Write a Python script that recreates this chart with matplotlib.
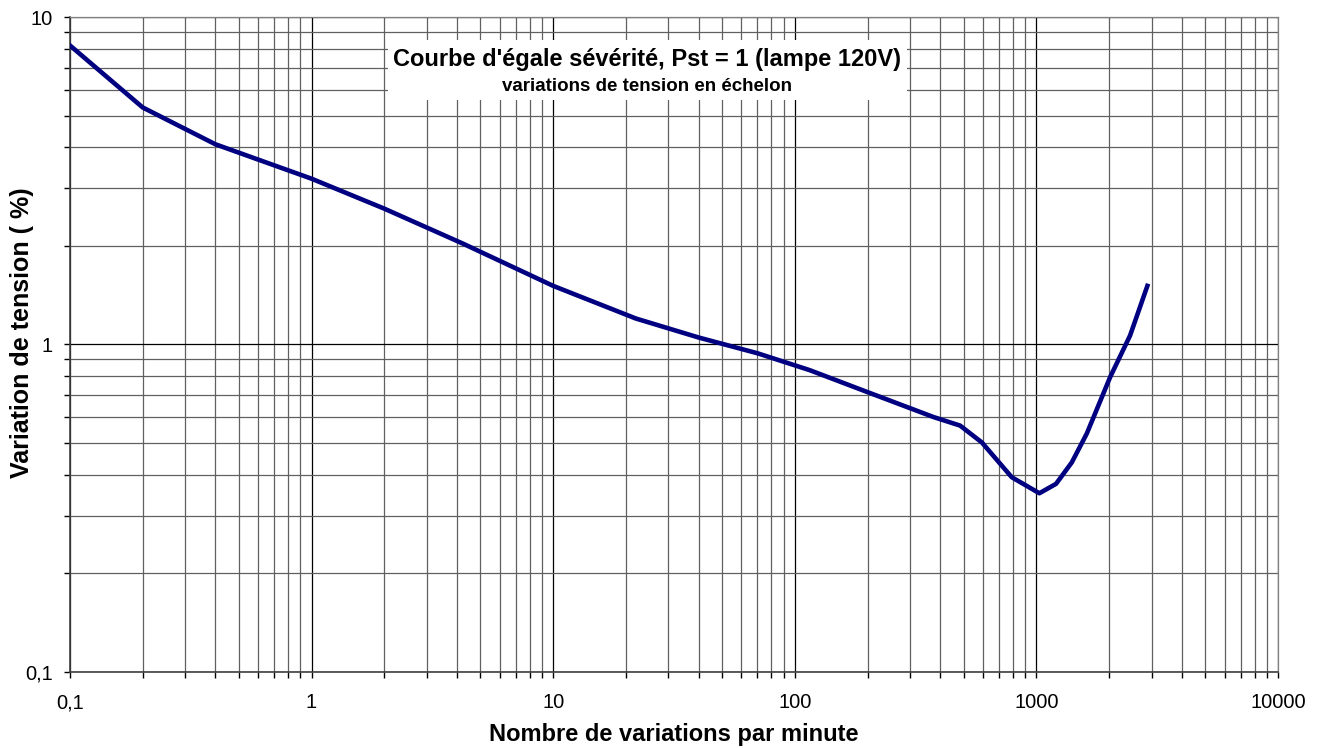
import matplotlib.pyplot as plt
import matplotlib.ticker as ticker
from matplotlib.patches import Rectangle

# Courbe Pst = 1, lampe 120V
freq = [0.1, 0.2, 0.4, 1, 2, 4.25, 10, 22, 40, 70, 115, 200, 375, 483, 594,
        790, 1028, 1205, 1400, 1615, 2017, 2440, 2877]
dv = [8.2, 5.3, 4.09, 3.21, 2.6, 2.03, 1.51, 1.2, 1.05, 0.94, 0.835, 0.715,
      0.6, 0.565, 0.502, 0.393, 0.351, 0.375, 0.436, 0.534, 0.794, 1.065, 1.51]

xticks = [0.1, 1, 10, 100, 1000, 10000]
xlabels = ["0,1", "1", "10", "100", "1000", "10000"]
yticks = [0.1, 1, 10]
ylabels = ["0,1", "1", "10"]

plt.rcParams['font.family'] = ['Liberation Sans', 'DejaVu Sans']

fig = plt.figure(figsize=(13.19, 7.48), dpi=100)
ax = fig.add_axes([0.053, 0.102, 0.916, 0.875])

ax.set_xscale('log')
ax.set_yscale('log')
ax.set_xlim(0.1, 10000)
ax.set_ylim(0.1, 10)

ax.plot(freq, dv, color='#000080', lw=3.3, solid_joinstyle='round', zorder=5)

ax.xaxis.set_major_locator(ticker.FixedLocator(xticks))
ax.xaxis.set_major_formatter(ticker.FixedFormatter(xlabels))
ax.yaxis.set_major_locator(ticker.FixedLocator(yticks))
ax.yaxis.set_major_formatter(ticker.FixedFormatter(ylabels))
ax.xaxis.set_minor_locator(ticker.LogLocator(base=10, subs=range(2, 10), numticks=20))
ax.yaxis.set_minor_locator(ticker.LogLocator(base=10, subs=range(2, 10), numticks=20))
ax.xaxis.set_minor_formatter(ticker.NullFormatter())
ax.yaxis.set_minor_formatter(ticker.NullFormatter())

ax.grid(which='major', color='black', lw=0.9)
ax.grid(which='minor', color='#606060', lw=0.9)
ax.set_axisbelow(True)

ax.tick_params(which='both', direction='out', length=4.5, width=1, labelsize=14.5,
               color='black')
ax.tick_params(axis='x', pad=11)
ax.tick_params(axis='y', pad=8)
for s in ax.spines.values():
    s.set_color('#404040')
    s.set_linewidth(1.2)
for s in ['top', 'right']:
    ax.spines[s].set_color('#808080')
    ax.spines[s].set_linewidth(0.9)

ax.set_xlabel("Nombre de variations par minute", fontsize=17,
              fontweight='bold')
ax.set_ylabel("Variation de tension ( %)", fontsize=18,
              fontweight='bold')
ax.xaxis.set_label_coords(0.5, -0.078)
ax.yaxis.set_label_coords(-0.030, 0.518)

# encadré du titre
ax.add_patch(Rectangle((0.263, 0.873), 0.43, 0.092, transform=ax.transAxes,
                       facecolor='white', edgecolor='none', zorder=6))
ax.text(0.478, 0.936, "Courbe d'égale sévérité, Pst = 1 (lampe 120V)",
        transform=ax.transAxes, ha='center', va='center', fontsize=17,
        fontweight='bold', zorder=7)
ax.text(0.478, 0.894, "variations de tension en échelon",
        transform=ax.transAxes, ha='center', va='center', fontsize=13.5,
        fontweight='bold', zorder=7)

fig.savefig("out.png", dpi=100)
